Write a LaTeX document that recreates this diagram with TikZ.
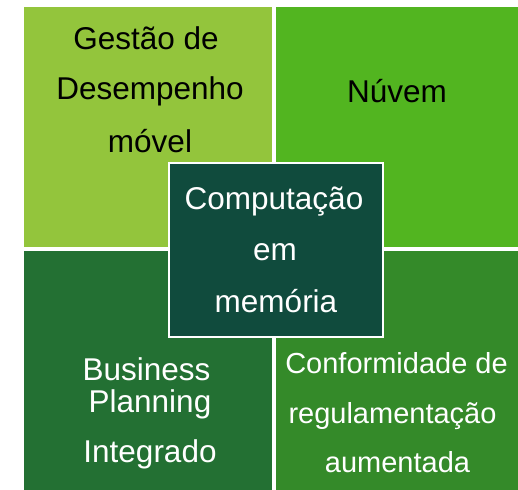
\documentclass[tikz,border=0pt]{standalone}
\usepackage{fontspec}
\setmainfont{Liberation Sans}
\definecolor{cTL}{HTML}{93C53C}
\definecolor{cTR}{HTML}{52B520}
\definecolor{cBL}{HTML}{237033}
\definecolor{cBR}{HTML}{348A29}
\definecolor{cMid}{HTML}{104B3D}
\tikzset{
  quad/.style={draw=white, line width=0.8pt, anchor=north west, inner sep=0pt, outer sep=0pt},
  bigtxt/.style={anchor=base, inner sep=0pt, font=\fontsize{31.5}{38}\selectfont},
  smalltxt/.style={anchor=base, inner sep=0pt, font=\fontsize{29}{35}\selectfont},
}
\begin{document}
\begin{tikzpicture}[x=1pt,y=-1pt]
\useasboundingbox (0,0) rectangle (518,489);
\node[quad, fill=cTL, minimum width=249pt, minimum height=241pt] (tl) at (23,6) {};
\node[quad, fill=cTR, minimum width=245pt, minimum height=241pt] (tr) at (275,6) {};
\node[quad, fill=cBL, minimum width=249pt, minimum height=241pt] (bl) at (23,250) {};
\node[quad, fill=cBR, minimum width=245pt, minimum height=241pt] (br) at (275,250) {};
\node[quad, fill=cMid, line width=2pt, minimum width=214pt, minimum height=174pt] (mid) at (169,163) {};
% top left
\node[bigtxt] (tl1) at (146,50) {Gestão de};
\node[bigtxt] (tl2) at (150,100) {Desempenho};
\node[bigtxt] (tl3) at (150,152) {móvel};
% top right
\node[bigtxt] (tr1) at (397,103) {Núvem};
% center
\node[bigtxt, text=white] (m1) at (274,209) {Computação};
\node[bigtxt, text=white] (m2) at (275,260) {em};
\node[bigtxt, text=white] (m3) at (276,312) {memória};
% bottom left
\node[bigtxt, text=white] (bl1) at (146.5,380) {Business};
\node[bigtxt, text=white] (bl2) at (150,412) {Planning};
\node[bigtxt, text=white] (bl3) at (150,462) {Integrado};
% bottom right
\node[smalltxt, text=white] (br1) at (396.5,373) {Conformidade de};
\node[smalltxt, text=white] (br2) at (392.5,423) {regulamentação};
\node[smalltxt, text=white] (br3) at (397.5,472) {aumentada};
\end{tikzpicture}
\end{document}
